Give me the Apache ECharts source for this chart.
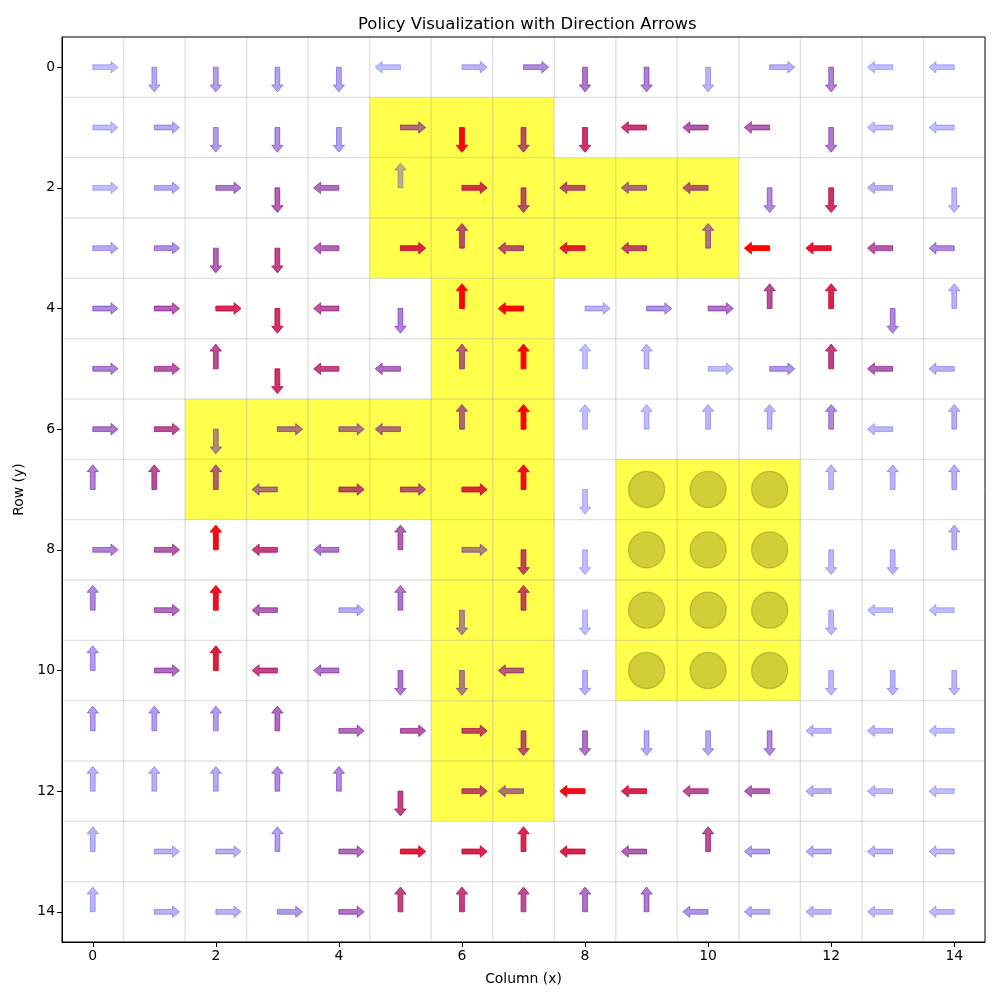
<!DOCTYPE html>
<html>
<head>
<meta charset="utf-8">
<script src="https://cdn.jsdelivr.net/npm/echarts@6/dist/echarts.min.js"></script>
<style>
  html, body { margin: 0; padding: 0; background: #fff; }
  #chart { width: 1000px; height: 1000px; }
</style>
</head>
<body>
<div id="chart"></div>
<script>
// ---------------- DATA ----------------
const columns = [0,1,2,3,4,5,6,7,8,9,10,11,12,13,14];
const rows    = [0,1,2,3,4,5,6,7,8,9,10,11,12,13,14];
const xTickLabels = [0,2,4,6,8,10,12,14];
const yTickLabels = [0,2,4,6,8,10,12,14];

// Policy direction per cell (row by row, column 0..14). R=right, L=left, U=up (row-1), D=down (row+1), .=none
const policyDirections = [
  "RDDDDLRRDDDRDLL",
  "RRDDDRDDDLLLDLL",
  "RRRDLURDLLLDDLD",
  "RRDDLRULLLULLLL",
  "RRRDLDULRRRUUDU",
  "RRUDLLUUUURRULL",
  "RRDRRLUUUUUUULU",
  "UUULRRRUD...UUU",
  "RRULLURDD...DDU",
  "URULRUDUD...DLL",
  "URULLDDLD...DDD",
  "UUUURRRDDDDDLLL",
  "UUUUUDRLLLLLLLL",
  "URRURRRULLULLLL",
  "URRRRUUUUULLLLL"
];

// Value (0..1) per cell, drives arrow colour / opacity
const policyValues = [
  [.05,.15,.20,.18,.18,.05,.10,.30,.40,.35,.10,.12,.35,.05,.05],
  [.05,.15,.22,.28,.20,.45,.95,.60,.75,.70,.55,.50,.38,.05,.05],
  [.05,.15,.38,.50,.45,.10,.75,.60,.60,.45,.55,.30,.75,.12,.08],
  [.15,.28,.50,.65,.50,.80,.60,.60,.85,.65,.40,1.0,.88,.55,.30],
  [.30,.50,.78,.75,.55,.35,1.0,1.0,.10,.25,.40,.60,.82,.30,.10],
  [.35,.55,.60,.75,.65,.45,.50,1.0,.05,.08,.05,.25,.68,.50,.12],
  [.40,.60,.30,.40,.40,.45,.48,1.0,.05,.05,.08,.10,.30,.08,.12],
  [.35,.60,.50,.40,.62,.55,.80,.92,.05,null,null,null,.08,.10,.12],
  [.35,.52,.95,.68,.40,.50,.35,.65,.05,null,null,null,.08,.10,.12],
  [.30,.45,.93,.50,.15,.40,.30,.65,.05,null,null,null,.08,.05,.05],
  [.20,.45,.85,.65,.40,.40,.35,.50,.12,null,null,null,.08,.10,.08],
  [.20,.20,.22,.45,.45,.55,.65,.60,.42,.15,.15,.30,.08,.08,.05],
  [.12,.12,.15,.30,.30,.65,.62,.42,.95,.80,.60,.50,.12,.08,.05],
  [.10,.10,.12,.20,.45,.85,.82,.80,.82,.50,.60,.20,.12,.10,.08],
  [.10,.12,.12,.22,.42,.65,.68,.60,.42,.38,.25,.15,.10,.08,.08]
];

// Highlighted (yellow) cells as [column, row]
const highlightCells = [
  [5,1],[6,1],[7,1],
  [5,2],[6,2],[7,2],[8,2],[9,2],[10,2],
  [5,3],[6,3],[7,3],[8,3],[9,3],[10,3],
  [6,4],[7,4],
  [6,5],[7,5],
  [2,6],[3,6],[4,6],[5,6],[6,6],[7,6],
  [2,7],[3,7],[4,7],[5,7],[6,7],[7,7],[9,7],[10,7],[11,7],
  [6,8],[7,8],[9,8],[10,8],[11,8],
  [6,9],[7,9],[9,9],[10,9],[11,9],
  [6,10],[7,10],[9,10],[10,10],[11,10],
  [6,11],[7,11],
  [6,12],[7,12]
];

// Obstacle (circle) cells as [column, row]
const obstacleCells = [
  [9,7],[10,7],[11,7],
  [9,8],[10,8],[11,8],
  [9,9],[10,9],[11,9],
  [9,10],[10,10],[11,10]
];

// ---------------- BUILD ----------------
const DIR_VEC = { R:[1,0], L:[-1,0], U:[0,-1], D:[0,1] };
const arrowData = [];
rows.forEach(function (r) {
  columns.forEach(function (c) {
    const d = policyDirections[r][c];
    if (DIR_VEC[d]) arrowData.push([c, r, DIR_VEC[d][0], DIR_VEC[d][1], policyValues[r][c]]);
  });
});
const boundaryData = columns.slice(1).map(function (c) { return [c - 0.5]; });
const lo = columns[0] - 0.5, hi = columns[columns.length - 1] + 0.5;

function arrowColor(v) {
  const r = Math.round(255 * v), b = Math.round(255 * (1 - v));
  const a = 0.22 + 0.78 * v;
  return 'rgba(' + r + ',0,' + b + ',' + a.toFixed(3) + ')';
}

const FONT = 'DejaVu Sans';
const chart = echarts.init(document.getElementById('chart'), null, { renderer: 'canvas' });

const option = {
  animation: false,
  backgroundColor: '#ffffff',
  title: {
    text: 'Policy Visualization with Direction Arrows',
    left: 353, top: 11,
    textStyle: { fontFamily: FONT, fontSize: 16.5, fontWeight: 'normal', color: '#000' }
  },
  grid: {
    left: 62, right: 15, top: 37, bottom: 58,
    show: true, borderColor: '#000', borderWidth: 1, backgroundColor: 'transparent'
  },
  xAxis: {
    type: 'value', min: lo, max: hi,
    name: 'Column (x)', nameLocation: 'middle', nameGap: 30,
    nameTextStyle: { fontFamily: FONT, fontSize: 13.9, color: '#000' },
    axisLine: { show: true, onZero: false, lineStyle: { color: '#000', width: 1 } },
    axisTick: { show: true, customValues: xTickLabels, length: 5, lineStyle: { color: '#000' } },
    axisLabel: { customValues: xTickLabels, fontFamily: FONT, fontSize: 13.9, color: '#000', margin: 7 },
    splitLine: { show: false }
  },
  yAxis: {
    type: 'value', min: lo, max: hi, inverse: true,
    name: 'Row (y)', nameLocation: 'middle', nameGap: 35, nameRotate: 90,
    nameTextStyle: { fontFamily: FONT, fontSize: 13.9, color: '#000' },
    axisLine: { show: true, onZero: false, lineStyle: { color: '#000', width: 1 } },
    axisTick: { show: true, customValues: yTickLabels, length: 5, lineStyle: { color: '#000' } },
    axisLabel: { customValues: yTickLabels, fontFamily: FONT, fontSize: 13.9, color: '#000', margin: 7 },
    splitLine: { show: false }
  },
  series: [
    {
      name: 'highlight', type: 'custom', z: 1, clip: true,
      data: highlightCells,
      renderItem: function (params, api) {
        const c = api.value(0), r = api.value(1);
        const a = api.coord([c - 0.5, r - 0.5]);
        const b = api.coord([c + 0.5, r + 0.5]);
        return {
          type: 'rect',
          shape: { x: Math.min(a[0], b[0]), y: Math.min(a[1], b[1]),
                   width: Math.abs(b[0] - a[0]), height: Math.abs(b[1] - a[1]) },
          style: { fill: 'rgba(255,255,0,0.7)' }
        };
      }
    },
    {
      name: 'gridlines', type: 'custom', z: 2, clip: true,
      data: boundaryData,
      renderItem: function (params, api) {
        const b = api.value(0);
        const v0 = api.coord([b, lo]), v1 = api.coord([b, hi]);
        const h0 = api.coord([lo, b]), h1 = api.coord([hi, b]);
        const st = { stroke: 'rgba(128,128,128,0.24)', lineWidth: 1.4, fill: null };
        return {
          type: 'group',
          children: [
            { type: 'line', shape: { x1: v0[0], y1: v0[1], x2: v1[0], y2: v1[1] }, style: st },
            { type: 'line', shape: { x1: h0[0], y1: h0[1], x2: h1[0], y2: h1[1] }, style: st }
          ]
        };
      }
    },
    {
      name: 'obstacles', type: 'custom', z: 3, clip: true,
      data: obstacleCells,
      renderItem: function (params, api) {
        const p = api.coord([api.value(0), api.value(1)]);
        const s = api.size([1, 1]);
        const rad = 0.3 * Math.min(Math.abs(s[0]), Math.abs(s[1]));
        return {
          type: 'circle',
          shape: { cx: p[0], cy: p[1], r: rad },
          style: { fill: 'rgba(128,120,20,0.36)', stroke: 'rgba(128,120,20,0.4)', lineWidth: 1.2 }
        };
      }
    },
    {
      name: 'arrows', type: 'custom', z: 4, clip: true,
      data: arrowData,
      renderItem: function (params, api) {
        const x = api.value(0), y = api.value(1), dx = api.value(2), dy = api.value(3), v = api.value(4);
        const p0 = api.coord([x, y]);
        const p1 = api.coord([x + dx * 0.41, y + dy * 0.41]);
        const s = api.size([1, 1]);
        const unit = Math.min(Math.abs(s[0]), Math.abs(s[1]));
        const L = Math.hypot(p1[0] - p0[0], p1[1] - p0[1]);
        const ux = (p1[0] - p0[0]) / L, uy = (p1[1] - p0[1]) / L;
        const nx = -uy, ny = ux;
        const sw = 0.04 * unit, hw = 0.095 * unit, hl = 0.115 * unit;
        const bx = p0[0] + ux * (L - hl), by = p0[1] + uy * (L - hl);
        const pts = [
          [p0[0] + nx * sw, p0[1] + ny * sw],
          [bx + nx * sw, by + ny * sw],
          [bx + nx * hw, by + ny * hw],
          [p1[0], p1[1]],
          [bx - nx * hw, by - ny * hw],
          [bx - nx * sw, by - ny * sw],
          [p0[0] - nx * sw, p0[1] - ny * sw]
        ];
        const col = arrowColor(v);
        return {
          type: 'polygon',
          shape: { points: pts },
          style: { fill: col, stroke: col, lineWidth: 1 }
        };
      }
    }
  ]
};
chart.setOption(option);
</script>
</body>
</html>
